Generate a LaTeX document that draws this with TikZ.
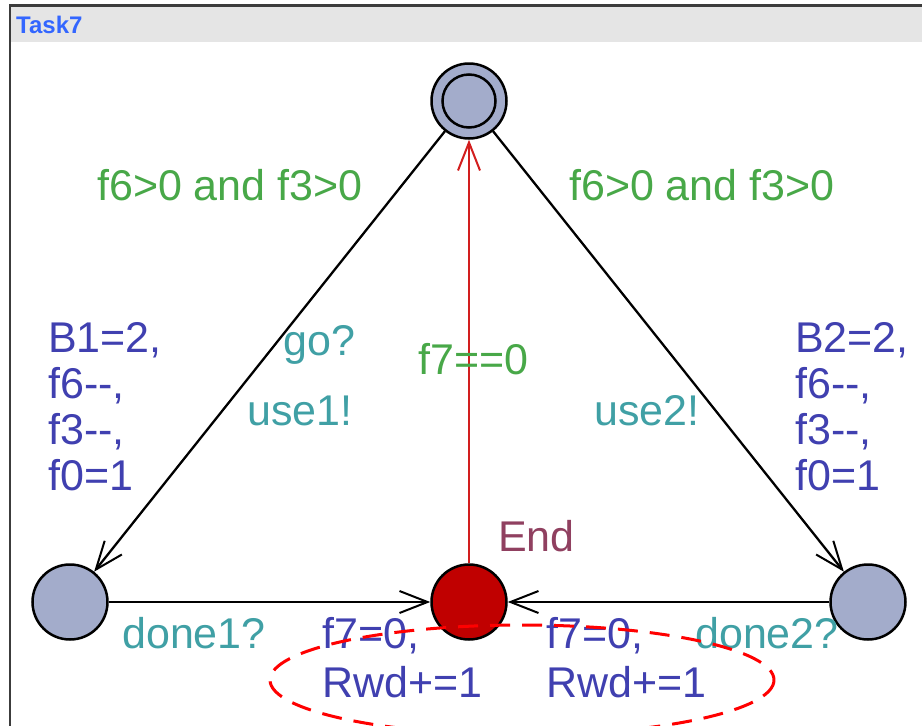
\documentclass[tikz,border=0pt]{standalone}
\usepackage{fontspec}
\setmainfont{Liberation Sans}
\usetikzlibrary{arrows.meta}
\definecolor{guardc}{RGB}{72,168,72}
\definecolor{syncc}{RGB}{64,160,165}
\definecolor{updc}{RGB}{64,64,176}
\definecolor{namec}{RGB}{144,64,96}
\definecolor{locfill}{RGB}{163,172,203}
\definecolor{endfill}{RGB}{192,0,0}
\definecolor{redarrow}{RGB}{210,30,30}
\definecolor{titlegray}{RGB}{229,229,229}
\definecolor{framegray}{RGB}{60,60,60}
\definecolor{taskblue}{RGB}{51,102,255}
\begin{document}
\begin{tikzpicture}[x=1pt,y=-1pt,
  loc/.style={circle, draw=black, line width=2.5pt, fill=locfill, minimum size=75pt, inner sep=0pt},
  endloc/.style={loc, fill=endfill},
  edge/.style={line width=2.3pt, -{Straight Barb[length=28pt,width=22pt,line width=2pt]}},
  lbl/.style={anchor=base west, inner sep=0pt, font=\fontsize{43}{46}\selectfont},
  guard/.style={lbl, text=guardc},
  sync/.style={lbl, text=syncc},
  upd/.style={lbl, text=updc, align=left},
  lname/.style={lbl, text=namec},
  note/.style={draw=red, line width=3pt, dash pattern=on 20pt off 12pt}
]
\useasboundingbox (0,0) rectangle (922,726);
\fill[white] (0,0) rectangle (922,726);
\fill[titlegray] (11,7) rectangle (922,42);
\draw[line width=2.5pt, framegray] (10,726) -- (10,5.5) -- (922,5.5);
\node[anchor=west, inner sep=0pt, font=\bfseries\fontsize{24}{24}\selectfont, text=taskblue] (title) at (16,25) {Task7};

% locations
\node[loc] (top) at (469,101) {};
\draw[line width=2.5pt] (top.center) circle (26.5);
\node[loc] (left) at (70,602) {};
\node[endloc] (end) at (469,602) {};
\node[loc] (right) at (868,602) {};

% edges
\draw[edge] (top) -- (left);
\draw[edge] (top) -- (right);
\draw[edge] (left) -- (end);
\draw[edge] (right) -- (end);
\draw[edge, draw=redarrow] (end) -- (top);

% labels
\node[guard] (g1) at (97,200) {f6>0 and f3>0};
\node[guard] (g2) at (569,200) {f6>0 and f3>0};
\node[guard] (g3) at (418,374) {f7==0};
\node[sync] (s1) at (283,355) {go?};
\node[sync] (s2) at (247,425) {use1!};
\node[sync] (s3) at (594,425) {use2!};
\node[sync] (s4) at (122,648) {done1?};
\node[sync] (s5) at (695,648) {done2?};
\node[lname] (n1) at (498,551) {End};
\node[upd] (u1) at (48,352) {B1=2,};
\node[upd] (u2) at (48,398) {f6-{}-,};
\node[upd] (u3) at (48,444) {f3-{}-,};
\node[upd] (u4) at (48,490) {f0=1};
\node[upd] (u5) at (795,352) {B2=2,};
\node[upd] (u6) at (795,398) {f6-{}-,};
\node[upd] (u7) at (795,444) {f3-{}-,};
\node[upd] (u8) at (795,490) {f0=1};
\node[upd] (u9) at (322,648) {f7=0,};
\node[upd] (u10) at (322,697) {Rwd+=1};
\node[upd] (u11) at (546,648) {f7=0,};
\node[upd] (u12) at (546,697) {Rwd+=1};

% highlight
\draw[note] (522,680) ellipse [x radius=252, y radius=55];
\end{tikzpicture}
\end{document}
